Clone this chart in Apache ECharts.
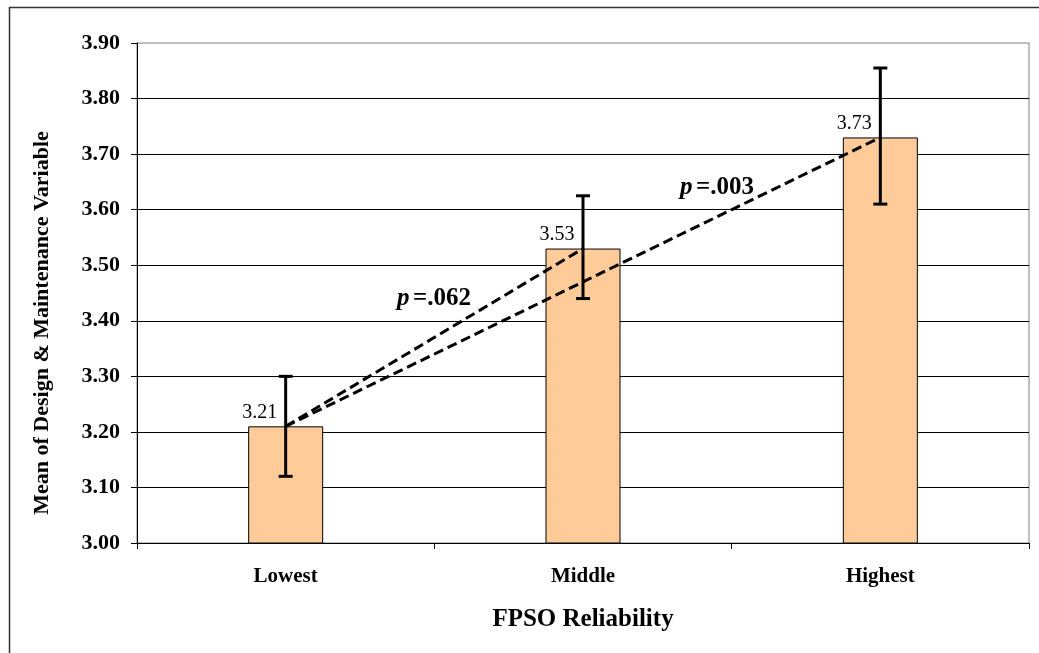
<!DOCTYPE html>
<html>
<head>
<meta charset="utf-8">
<style>
  html, body { margin: 0; padding: 0; background: #fff; }
  #chart { width: 1039px; height: 653px; }
</style>
<script src="https://cdn.jsdelivr.net/npm/echarts@6/dist/echarts.min.js"></script>
</head>
<body>
<div id="chart"></div>
<script>
// Reliability groups and mean scores
const categories = ['Lowest', 'Middle', 'Highest'];
const means = [3.21, 3.53, 3.73];
// Error bar extents (lower, upper)
const errLow = [3.12, 3.44, 3.61];
const errHigh = [3.30, 3.625, 3.855];
// Comparison lines between group means, with their p-values
const compareLowMid = [[0, 3.21], [1, 3.53]];
const compareLowHigh = [[0, 3.21], [2, 3.73]];
const pLowMid = '.062';
const pLowHigh = '.003';

const FONT = "'Liberation Serif', 'Times New Roman', serif";

const chart = echarts.init(document.getElementById('chart'), null, { renderer: 'canvas' });

const errorData = categories.map((c, i) => [i, errLow[i], errHigh[i]]);

const pRich = {
  p: { fontFamily: FONT, fontStyle: 'italic', fontWeight: 'bold', fontSize: 25, fill: '#000' },
  v: { fontFamily: FONT, fontWeight: 'bold', fontSize: 25, fill: '#000' }
};

const option = {
  backgroundColor: '#fff',
  animation: false,
  grid: {
    left: 137, right: 10, top: 43, bottom: 110,
    show: true, borderColor: '#808080', borderWidth: 1, backgroundColor: 'transparent'
  },
  xAxis: {
    type: 'category',
    data: categories,
    name: 'FPSO Reliability',
    nameLocation: 'middle',
    nameGap: 77,
    nameTextStyle: { fontFamily: FONT, fontWeight: 'bold', fontSize: 25, color: '#000', verticalAlign: 'middle' },
    axisLine: { lineStyle: { color: '#000', width: 1 } },
    axisTick: { show: true, length: 6, lineStyle: { color: '#000' } },
    axisLabel: { fontFamily: FONT, fontWeight: 'bold', fontSize: 21, color: '#000', margin: 23 }
  },
  yAxis: {
    type: 'value',
    min: 3.0, max: 3.9, interval: 0.1,
    axisLine: { show: true, lineStyle: { color: '#000', width: 1 } },
    axisTick: { show: true, length: 6, lineStyle: { color: '#000' } },
    axisLabel: {
      fontFamily: FONT, fontWeight: 'bold', fontSize: 22, color: '#000', margin: 17,
      formatter: v => v.toFixed(2)
    },
    splitLine: { show: true, showMaxLine: false, lineStyle: { color: '#000', width: 1 } }
  },
  series: [
    {
      type: 'bar',
      data: means,
      barWidth: 75,
      itemStyle: { color: '#FFCC99', borderColor: '#000', borderWidth: 1 },
      label: {
        show: true, position: 'top', distance: 4, offset: [-26, 0],
        fontFamily: FONT, fontSize: 20, color: '#000',
        formatter: p => p.value.toFixed(2)
      },
      z: 2
    },
    {
      type: 'custom',
      data: errorData,
      z: 4,
      renderItem: (params, api) => {
        const x = api.value(0);
        const lo = api.coord([x, api.value(1)]);
        const hi = api.coord([x, api.value(2)]);
        const cap = 7;
        const style = { stroke: '#000', lineWidth: 3 };
        return {
          type: 'group',
          children: [
            { type: 'line', shape: { x1: lo[0], y1: lo[1], x2: hi[0], y2: hi[1] }, style },
            { type: 'line', shape: { x1: hi[0] - cap, y1: hi[1], x2: hi[0] + cap, y2: hi[1] }, style },
            { type: 'line', shape: { x1: lo[0] - cap, y1: lo[1], x2: lo[0] + cap, y2: lo[1] }, style }
          ]
        };
      }
    },
    {
      type: 'line',
      data: compareLowMid,
      symbol: 'none',
      lineStyle: { color: '#000', width: 3, type: [10, 5] },
      z: 5
    },
    {
      type: 'line',
      data: compareLowHigh,
      symbol: 'none',
      lineStyle: { color: '#000', width: 3, type: [10, 5] },
      z: 5
    }
  ],
  graphic: [
    {
      type: 'rect', silent: true, z: 100,
      shape: { x: 9.5, y: 7.5, width: 1200, height: 1000 },
      style: { fill: 'none', stroke: '#333', lineWidth: 1.5 }
    },
    {
      type: 'text', z: 100,
      x: 42, y: 323, rotation: Math.PI / 2,
      style: {
        text: 'Mean of Design & Maintenance Variable',
        font: "bold 22px 'Liberation Serif', 'Times New Roman', serif",
        fill: '#000', align: 'center', verticalAlign: 'middle'
      }
    },
    {
      type: 'text', z: 100, x: 434, y: 299,
      style: { text: '{p|p} {v|=' + pLowMid + '}', align: 'center', verticalAlign: 'middle', rich: pRich }
    },
    {
      type: 'text', z: 100, x: 717, y: 188,
      style: { text: '{p|p} {v|=' + pLowHigh + '}', align: 'center', verticalAlign: 'middle', rich: pRich }
    }
  ]
};

chart.setOption(option);
</script>
</body>
</html>
